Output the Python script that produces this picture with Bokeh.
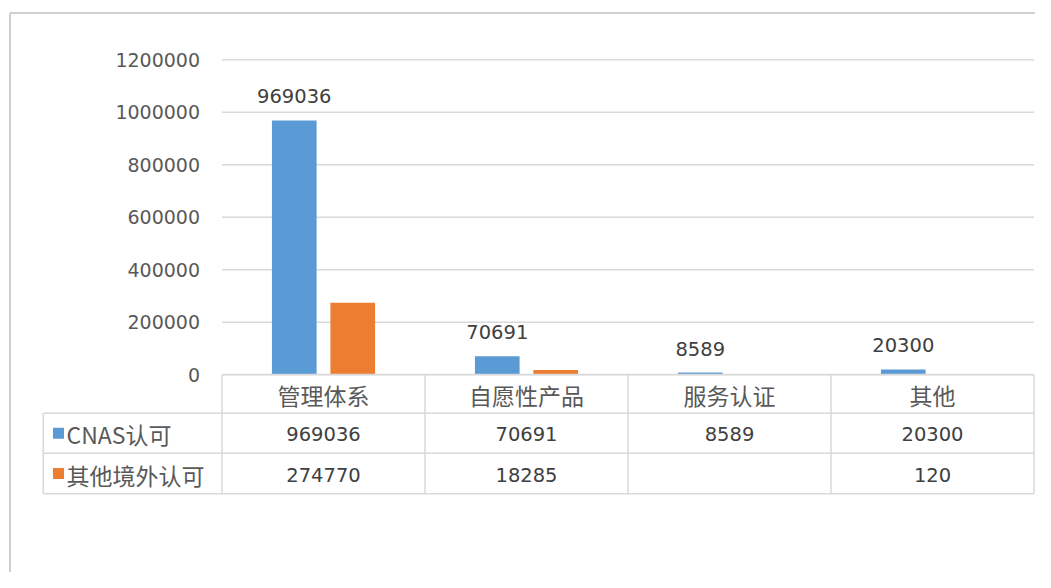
from bokeh.plotting import figure
from bokeh.models import Range1d, LinearAxis, FixedTicker, NumeralTickFormatter, ColumnDataSource
from bokeh.core.properties import value
from bokeh.embed import file_html
from bokeh.resources import INLINE

# ---------------- data ----------------
categories = ["管理体系", "自愿性产品", "服务认证", "其他"]
series_names = ["CNAS认可", "其他境外认可"]
cnas = [969036, 70691, 8589, 20300]
other = [274770, 18285, None, 120]
y_ticks = [0, 200000, 400000, 600000, 800000, 1000000, 1200000]
colors = ["#5B9BD5", "#ED7D31"]

# ---------------- layout (pixels) ----------------
W, H = 1035, 572
OX, OY = 0, 0
PLOT_L, PLOT_R = 221.5, 1033.5
Y0_PX, YMAX_PX = 374.3, 59.3
ROW_Y = [374.0, 412.7, 452.7, 493.3]
LEG_L = 42.7
GRID = "#d9d9d9"
TXT = "#595959"
NUM = "#404040"

n = len(categories)
cpu = (PLOT_R - PLOT_L) / n
vpp = max(y_ticks) / (Y0_PX - YMAX_PX)

p = figure(width=W, height=H,
           x_range=Range1d((OX - PLOT_L) / cpu, (OX + W - PLOT_L) / cpu),
           y_range=Range1d(-(OY + H - Y0_PX) * vpp, (Y0_PX - OY) * vpp),
           x_axis_type=None, y_axis_type=None,
           min_border=0, toolbar_location=None, output_backend="svg",
           outline_line_color=None, background_fill_color="white")
p.extra_x_ranges = {"px": Range1d(OX, OX + W)}
p.extra_y_ranges = {"px": Range1d(OY + H, OY)}

# outer chart border
p.segment(x0=[9.5, 9.5], y0=[12.5, 12.5], x1=[9.5, 1100], y1=[700, 12.5],
          x_range_name="px", y_range_name="px", line_color="#d0d0d0", line_width=2)

# gridlines
p.segment(x0=[0] * len(y_ticks), x1=[n] * len(y_ticks), y0=y_ticks, y1=y_ticks,
          line_color=GRID, line_width=1.5)

# bars
idx = list(range(n))
bw = 0.22
off = 0.144
src = ColumnDataSource(dict(
    xc=[i + 0.5 - off for i in idx],
    xo=[i + 0.5 + off for i in idx],
    cnas=cnas,
    other=[float("nan") if v is None else v for v in other],
    lab=[str(v) for v in cnas],
))
p.vbar(x="xc", top="cnas", bottom=0, width=bw, source=src, fill_color=colors[0], line_color=None)
p.vbar(x="xo", top="other", bottom=0, width=bw, source=src, fill_color=colors[1], line_color=None)

# data labels (CNAS series)
p.text(x="xc", y="cnas", text="lab", source=src, y_offset=-24,
       text_align="center", text_baseline="middle",
       text_font=value("DejaVu Sans"), text_font_size="19.5px", text_color=NUM)

# y axis
ax = LinearAxis(ticker=FixedTicker(ticks=y_ticks), formatter=NumeralTickFormatter(format="0"),
                fixed_location=0, axis_line_color=None, major_tick_line_color=None,
                minor_tick_line_color=None, major_tick_in=0, major_tick_out=0,
                major_label_standoff=22,
                major_label_text_font="DejaVu Sans", major_label_text_font_size="19px",
                major_label_text_color=TXT)
p.add_layout(ax, "left")

# data table lines
hx0 = [PLOT_L, LEG_L, LEG_L, LEG_L]
p.segment(x0=hx0, x1=[PLOT_R] * 4, y0=ROW_Y, y1=ROW_Y,
          x_range_name="px", y_range_name="px", line_color=GRID, line_width=1.5)
vx = [LEG_L] + [PLOT_L + cpu * i for i in range(n + 1)]
vy0 = [ROW_Y[1]] + [ROW_Y[0]] * (n + 1)
p.segment(x0=vx, x1=vx, y0=vy0, y1=[ROW_Y[3]] * len(vx),
          x_range_name="px", y_range_name="px", line_color=GRID, line_width=1.5)

# category header row
row_c = [(ROW_Y[i] + ROW_Y[i + 1]) / 2 + 1 for i in range(3)]
p.text(x=[i + 0.5 for i in idx], y=[row_c[0]] * n, text=categories, y_range_name="px",
       text_align="center", text_baseline="middle",
       text_font=value("Noto Sans CJK SC"), text_font_size="23px", text_color=TXT)

# value rows
p.text(x=[i + 0.5 for i in idx], y=[row_c[1]] * n, text=[str(v) for v in cnas], y_range_name="px",
       text_align="center", text_baseline="middle",
       text_font=value("DejaVu Sans"), text_font_size="19.5px", text_color=NUM)
p.text(x=[i + 0.5 for i in idx], y=[row_c[2]] * n,
       text=["" if v is None else str(v) for v in other], y_range_name="px",
       text_align="center", text_baseline="middle",
       text_font=value("DejaVu Sans"), text_font_size="19.5px", text_color=NUM)

# legend keys in the table
p.scatter(x=[58, 58], y=[row_c[1] - 1, row_c[2] - 1], marker="square", size=11,
          fill_color=colors, line_color=None, x_range_name="px", y_range_name="px")
p.text(x=[66, 66], y=[row_c[1], row_c[2]], text=series_names,
       x_range_name="px", y_range_name="px", text_align="left", text_baseline="middle",
       text_font=value("Noto Sans CJK SC"), text_font_size="23px", text_color=TXT)

open("out.html", "w").write(file_html(p, INLINE))
